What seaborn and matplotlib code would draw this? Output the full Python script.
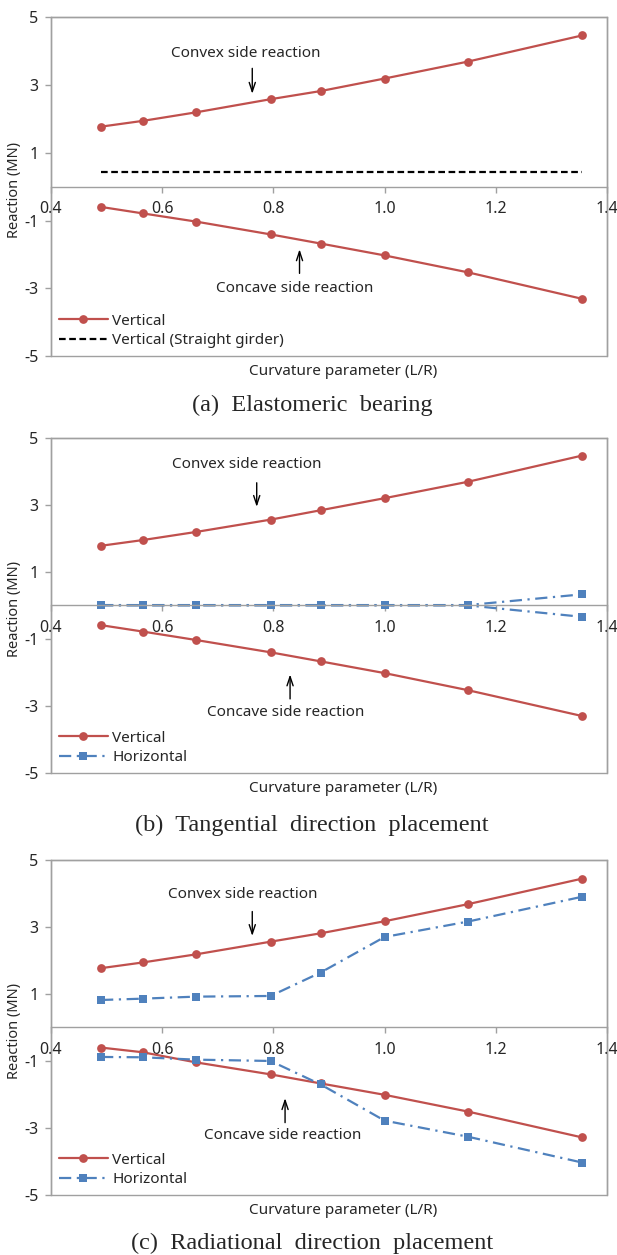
import matplotlib
matplotlib.use('Agg')
import matplotlib.pyplot as plt
import pandas as pd
import seaborn as sns

# curvature parameter L/R of the analysed girders
CURVATURE = [0.49, 0.565, 0.66, 0.795, 0.885, 1.0, 1.15, 1.355]

# (a) elastomeric bearing
A_VERT_CONVEX = [1.77, 1.94, 2.19, 2.58, 2.82, 3.19, 3.69, 4.46]
A_VERT_CONCAVE = [-0.60, -0.79, -1.03, -1.41, -1.68, -2.03, -2.53, -3.31]
A_STRAIGHT = [0.43, 0.43, 0.43, 0.43, 0.43, 0.43, 0.43, 0.43]

# (b) tangential direction placement
B_VERT_CONVEX = [1.78, 1.95, 2.19, 2.56, 2.84, 3.20, 3.69, 4.47]
B_VERT_CONCAVE = [-0.59, -0.78, -1.03, -1.40, -1.67, -2.02, -2.53, -3.30]
B_HORZ_CONVEX = [0.01, 0.01, 0.01, 0.01, 0.01, 0.01, 0.01, 0.33]
B_HORZ_CONCAVE = [0.0, 0.0, 0.0, 0.0, 0.0, 0.0, 0.0, -0.34]

# (c) radiational direction placement
C_VERT_CONVEX = [1.77, 1.94, 2.18, 2.56, 2.81, 3.17, 3.68, 4.44]
C_VERT_CONCAVE = [-0.60, -0.74, -1.04, -1.40, -1.67, -2.01, -2.51, -3.28]
C_HORZ_CONVEX = [0.82, 0.86, 0.92, 0.94, 1.64, 2.70, 3.16, 3.90]
C_HORZ_CONCAVE = [-0.88, -0.89, -0.96, -1.00, -1.70, -2.78, -3.26, -4.03]

CAPTIONS = ['(a)  Elastomeric  bearing',
            '(b)  Tangential  direction  placement',
            '(c)  Radiational  direction  placement']

X_TICKS = [0.4, 0.6, 0.8, 1.0, 1.2, 1.4]
Y_TICKS = [5, 3, 1, -1, -3, -5]

RED = '#C0504D'
BLUE = '#4F81BD'
GREY = '#A0A0A0'
DASH_DOT = (0, (5.5, 2.5, 1, 2.5))

sns.set_style('white')
plt.rcParams['font.family'] = ['Noto Sans', 'DejaVu Sans']
plt.rcParams['font.size'] = 11


def frame(df_x, y):
  return pd.DataFrame({'x': df_x, 'y': y})


def draw_vertical(ax, convex, concave):
  sns.lineplot(data=frame(CURVATURE, convex), x='x', y='y', ax=ax, color=RED,
               marker='o', markersize=6.3, markeredgewidth=0, linewidth=1.6, label='Vertical')
  sns.lineplot(data=frame(CURVATURE, concave), x='x', y='y', ax=ax, color=RED,
               marker='o', markersize=6.3, markeredgewidth=0, linewidth=1.6, label='_nolegend_')


def draw_horizontal(ax, convex, concave):
  sns.lineplot(data=frame(CURVATURE, convex), x='x', y='y', ax=ax, color=BLUE,
               marker='s', markersize=6.3, markeredgewidth=0, linewidth=1.6,
               linestyle=DASH_DOT, label='Horizontal')
  sns.lineplot(data=frame(CURVATURE, concave), x='x', y='y', ax=ax, color=BLUE,
               marker='s', markersize=6.3, markeredgewidth=0, linewidth=1.6,
               linestyle=DASH_DOT, label='_nolegend_')


def style_axes(ax):
  ax.set_xlim(0.4, 1.4)
  ax.set_ylim(-5, 5)
  ax.set_xticks(X_TICKS)
  ax.set_xticklabels(['{:.1f}'.format(t) for t in X_TICKS])
  ax.set_yticks(Y_TICKS)
  ax.set_yticklabels([str(t) for t in Y_TICKS])

  # plot area border + axis crossing at zero, like the spreadsheet chart
  ax.patch.set_edgecolor(GREY)
  ax.patch.set_linewidth(1.0)
  for side in ['top', 'right', 'left', 'bottom']:
    ax.spines[side].set_color(GREY)
    ax.spines[side].set_linewidth(1.0)
  ax.spines['bottom'].set_position(('data', 0))

  ax.tick_params(axis='x', direction='out', length=4.5, width=1, color=GREY,
                 pad=6, labelsize=11.5, bottom=True)
  ax.tick_params(axis='y', direction='out', length=4, width=1, color=GREY,
                 pad=5, labelsize=11.5, left=True)

  ax.set_xlabel('Curvature parameter (L/R)', fontsize=11)
  ax.xaxis.set_label_coords(0.525, -0.047)
  ax.xaxis.label.set_va('center')
  ax.set_ylabel('Reaction (MN)', fontsize=10.5)
  ax.yaxis.set_label_coords(-0.066, 0.49)
  ax.yaxis.label.set_va('center')


def annotate_sides(ax, convex_text, convex_arrow, concave_text, concave_arrow):
  ax.text(convex_text[0], convex_text[1], 'Convex side reaction', ha='center', va='center', fontsize=11)
  ax.annotate('', xy=(convex_arrow[0], convex_arrow[2]), xytext=(convex_arrow[0], convex_arrow[1]),
              arrowprops=dict(arrowstyle='->,head_length=0.6,head_width=0.2', color='black',
                              lw=1, shrinkA=0, shrinkB=0))
  ax.text(concave_text[0], concave_text[1], 'Concave side reaction', ha='center', va='center', fontsize=11)
  ax.annotate('', xy=(concave_arrow[0], concave_arrow[2]), xytext=(concave_arrow[0], concave_arrow[1]),
              arrowprops=dict(arrowstyle='->,head_length=0.6,head_width=0.2', color='black',
                              lw=1, shrinkA=0, shrinkB=0))


fig = plt.figure(figsize=(6.17, 12.55), dpi=100)
ax_a = fig.add_axes([0.0827, 0.7163, 0.901, 0.270])
ax_b = fig.add_axes([0.0827, 0.3841, 0.901, 0.267])
ax_c = fig.add_axes([0.0827, 0.0478, 0.901, 0.267])

# (a)
draw_vertical(ax_a, A_VERT_CONVEX, A_VERT_CONCAVE)
sns.lineplot(data=frame(CURVATURE, A_STRAIGHT), x='x', y='y', ax=ax_a, color='black',
             linewidth=1.6, linestyle=(0, (3, 1.6)), label='Vertical (Straight girder)')
annotate_sides(ax_a, (0.751, 3.94), (0.762, 3.49, 2.74), (0.838, -3.0), (0.847, -2.56, -1.85))

# (b)
draw_vertical(ax_b, B_VERT_CONVEX, B_VERT_CONCAVE)
draw_horizontal(ax_b, B_HORZ_CONVEX, B_HORZ_CONCAVE)
annotate_sides(ax_b, (0.752, 4.20), (0.770, 3.66, 2.94), (0.823, -3.19), (0.830, -2.79, -2.06))

# (c)
draw_vertical(ax_c, C_VERT_CONVEX, C_VERT_CONCAVE)
draw_horizontal(ax_c, C_HORZ_CONVEX, C_HORZ_CONCAVE)
annotate_sides(ax_c, (0.744, 3.98), (0.762, 3.46, 2.73), (0.816, -3.21), (0.821, -2.84, -2.11))

for ax in [ax_a, ax_b, ax_c]:
  style_axes(ax)
  ax.legend(loc='lower left', frameon=False, fontsize=11, handlelength=3.2,
            handletextpad=0.3, labelspacing=0.3, borderaxespad=0.2, borderpad=0.3)

caption_y = [0.677, 0.3426, 0.0096]
for text, y in zip(CAPTIONS, caption_y):
  fig.text(0.506, y, text, ha='center', va='center', fontsize=17.5, family='Liberation Serif')

fig.savefig('out.png', dpi=100)
